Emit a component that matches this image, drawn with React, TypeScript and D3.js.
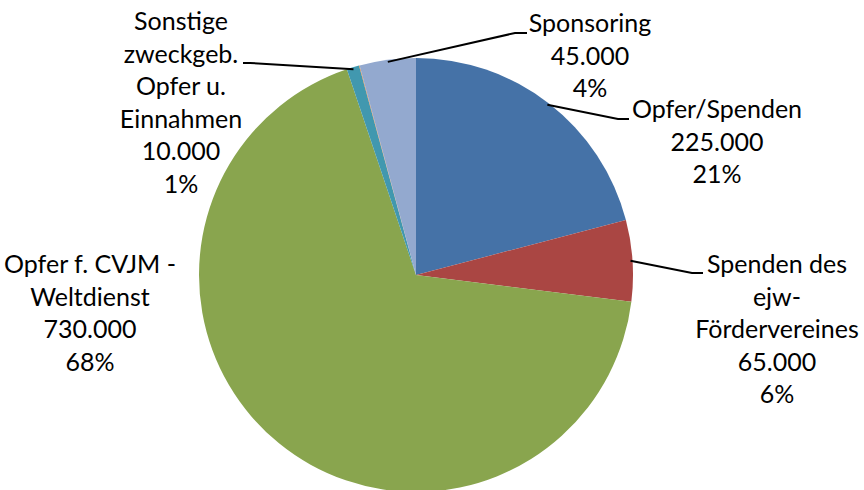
import React from "react";
import * as d3 from "d3";

const categories = [
  "Opfer/Spenden",
  "Spenden des ejw-Fördervereines",
  "Opfer f. CVJM - Weltdienst",
  "Sonstige zweckgeb. Opfer u. Einnahmen",
  "Sonstige (klein)",
  "Sponsoring",
];
const values = [225000, 65000, 730000, 10000, 500, 45000];
const colors = ["#4572A7", "#AA4643", "#89A54E", "#4198AF", "#DB843D", "#93A9CF"];
const labelLines = [
  ["Opfer/Spenden"],
  ["Spenden des", "ejw-", "Fördervereines"],
  ["Opfer f. CVJM -", "Weltdienst"],
  ["Sonstige", "zweckgeb.", "Opfer u.", "Einnahmen"],
  null,
  ["Sponsoring"],
];
// label layout: center x, first baseline y, leader elbow (x,y), leader end (x)
const labelPos: (null | { x: number; y: number; ex?: number; ey?: number; endX?: number })[] = [
  { x: 717, y: 118, ex: 618, ey: 119, endX: 629 },
  { x: 777, y: 273, ex: 692, ey: 273, endX: 703 },
  { x: 90, y: 273 },
  { x: 181, y: 30, ex: 250, ey: 63, endX: 243 },
  null,
  { x: 590, y: 32, ex: 515, ey: 33, endX: 527 },
];

const W = 864;
const H = 490;
const CX = 416;
const CY = 275;
const R = 217;
const LH = 32.5;

const de = d3.formatLocale({ decimal: ",", thousands: ".", grouping: [3], currency: ["", " €"] });
const fmt = de.format(",d");

export default function App() {
  const total = d3.sum(values);
  const pie = d3.pie<number>().sort(null).value((d) => d).startAngle(0).endAngle(2 * Math.PI);
  const arcs = pie(values);
  const arc = d3.arc<d3.PieArcDatum<number>>().innerRadius(0).outerRadius(R);
  const leaderArc = d3.arc<d3.PieArcDatum<number>>().innerRadius(R - 2).outerRadius(R - 2);

  return (
    <svg
      width={W}
      height={H}
      style={{ position: "absolute", left: 0, top: 0, background: "#fff" }}
      fontFamily="Lato, 'Open Sans', sans-serif"
    >
      <g transform={`translate(${CX},${CY})`}>
        {arcs.map((a, i) => (
          <path key={i} d={arc(a) || ""} fill={colors[i]} />
        ))}
      </g>
      {arcs.map((a, i) => {
        const lp = labelPos[i];
        const ll = labelLines[i];
        if (!lp || !ll) return null;
        const lines = [...ll, fmt(values[i]), `${Math.round((values[i] / total) * 100)}%`];
        const [sx, sy] = leaderArc.centroid(a);
        return (
          <g key={i}>
            {lp.ex !== undefined && (
              <polyline
                points={`${CX + sx},${CY + sy} ${lp.ex},${lp.ey} ${lp.endX},${lp.ey}`}
                fill="none"
                stroke="#000"
                strokeWidth={2}
              />
            )}
            <text textAnchor="middle" fontSize={25} fill="#000">
              {lines.map((t, j) => (
                <tspan key={j} x={lp.x} y={lp.y + j * LH}>
                  {t}
                </tspan>
              ))}
            </text>
          </g>
        );
      })}
    </svg>
  );
}
